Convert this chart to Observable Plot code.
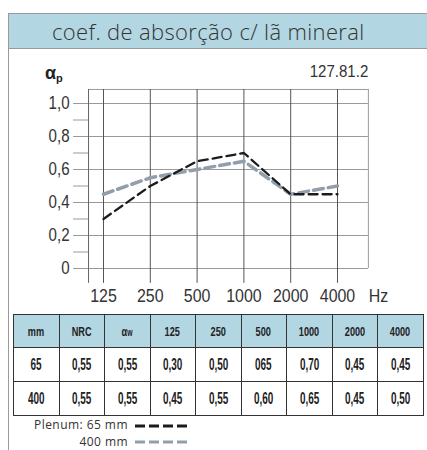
<!DOCTYPE html>
<html>
<head>
<meta charset="utf-8">
<script src="https://cdn.jsdelivr.net/npm/d3@7"></script>
<script src="https://cdn.jsdelivr.net/npm/@observablehq/plot@0.6"></script>
<style>
  html, body { margin: 0; padding: 0; background: #fff; }
  #page { position: relative; width: 427px; height: 450px; overflow: hidden; font-family: "Liberation Sans", Arial, sans-serif; }
  #box { position: absolute; left: 8px; top: 13px; width: 430px; height: 450px; border-left: 1.5px solid #9a9a9a; border-top: 1.5px solid #9a9a9a; }
  #band { position: absolute; left: 9px; top: 14px; width: 420px; height: 34px; background: #b3d7e2; border-bottom: 1.5px solid #9a9a9a; }
  #title { position: absolute; left: 52px; top: 16px; font-family: "Open Sans", "DejaVu Sans", sans-serif; font-weight: 300; font-size: 22px; letter-spacing: 0.35px; color: #333; white-space: nowrap; }
  #alpha { position: absolute; left: 45px; top: 63px; font-family: "Liberation Sans", Arial, sans-serif; font-weight: bold; font-size: 18px; color: #222; }
  #alpha sub { font-size: 11px; vertical-align: -3px; }
  #code { position: absolute; right: 59px; top: 63px; font-size: 16px; color: #333; display: inline-block; transform: scaleX(0.94); transform-origin: right center; }
  #chart { position: absolute; left: 0; top: 50px; }
  table { position: absolute; left: 13px; top: 314px; border-collapse: collapse; font-family: "Liberation Sans", Arial, sans-serif; color: #222; }
  td, th { border: 1.2px solid #333; width: 44.5px; text-align: center; padding: 0; }
  th { background: #b3d7e2; height: 32px; font-weight: bold; font-size: 13.5px; }
  td { height: 33px; font-weight: bold; font-size: 16px; }
  th span { display: inline-block; transform: scaleX(0.68); }
  td span { display: inline-block; transform: scaleX(0.62); }
  th sub { font-size: 10px; vertical-align: 0; }
  #legend { position: absolute; left: 0; top: 0; width: 427px; font-family: "Open Sans", "DejaVu Sans", sans-serif; font-size: 12px; line-height: 12px; color: #333; }
  .lt { position: absolute; right: 299px; white-space: nowrap; letter-spacing: 0.45px; }
</style>
</head>
<body>
<div id="page">
  <div id="box"></div>
  <div id="band"></div>
  <div id="title">coef. de absorção c/ lã mineral</div>
  <div id="alpha">α<sub>p</sub></div>
  <div id="code">127.81.2</div>
  <div id="chart"></div>
  <table id="tbl"></table>
  <div id="legend"></div>
</div>
<script>
const freqs = ["125", "250", "500", "1000", "2000", "4000"];
const plenum65 = [0.30, 0.50, 0.65, 0.70, 0.45, 0.45];
const plenum400 = [0.45, 0.55, 0.60, 0.65, 0.45, 0.50];
const yTicks = [0, 0.2, 0.4, 0.6, 0.8, 1.0];
const yMinor = [0.1, 0.3, 0.5, 0.7, 0.9];
const headers = ["mm", "NRC", "αw", "125", "250", "500", "1000", "2000", "4000"];
const row65 = ["65", "0,55", "0,55", "0,30", "0,50", "065", "0,70", "0,45", "0,45"];
const row400 = ["400", "0,55", "0,55", "0,45", "0,55", "0,60", "0,65", "0,45", "0,50"];
const legendLabels = ["Plenum: 65 mm", "400 mm"];

const c65 = "#1c1c1c", c400 = "#919eab";
const idx = freqs.map((f, i) => i);
const d65 = idx.map(i => ({i, v: plenum65[i]}));
const d400 = idx.map(i => ({i, v: plenum400[i]}));

const xL = -0.32, xR = 5.66, xT = -0.64, yTop = 1.085, yBot = -0.09;
const fmt = d => d === 0 ? "0" : d.toFixed(1).replace(".", ",");

const chart = Plot.plot({
  width: 427, height: 260,
  margin: 0,
  x: {type: "linear", domain: [0, 5], range: [103, 337], axis: null},
  y: {type: "linear", domain: [0, 1], range: [218, 53], axis: null},
  style: {fontFamily: "'Liberation Sans', Arial, sans-serif", color: "#333"},
  marks: [
    Plot.ruleY(yTicks, {y: d => d, x1: xT, x2: xR, stroke: "#9a9a9a", strokeWidth: 1, strokeOpacity: 1}),
    Plot.ruleY(yMinor, {y: d => d, x1: xT, x2: xL, stroke: "#9a9a9a", strokeWidth: 1, strokeOpacity: 1}),
    Plot.ruleY([yTop], {y: d => d, x1: xL, x2: xR, stroke: "#9a9a9a", strokeWidth: 1, strokeOpacity: 1}),
    Plot.ruleX([xR], {x: d => d, y1: 0, y2: yTop, stroke: "#9a9a9a", strokeWidth: 1, strokeOpacity: 1}),
    Plot.ruleX([xL], {x: d => d, y1: yBot, y2: yTop, stroke: "#666", strokeWidth: 1, strokeOpacity: 1}),
    Plot.ruleX(idx, {x: d => d, y1: yBot, y2: yTop, stroke: "#555", strokeWidth: 1, strokeOpacity: 1}),
    Plot.line(d400, {x: "i", y: "v", stroke: c400, strokeWidth: 3.5, strokeDasharray: "10,5"}),
    Plot.line(d65, {x: "i", y: "v", stroke: c65, strokeWidth: 2.3, strokeDasharray: "9,5"}),
    Plot.text(yTicks, {x: xT, y: d => d, text: fmt, textAnchor: "end", dx: -4, fontSize: 18, fill: "#333"}),
    Plot.text(idx, {x: d => d, y: -0.164, text: d => freqs[d], fontSize: 19, fill: "#333"}),
    Plot.text(["Hz"], {x: 5.876, y: -0.164, text: d => d, fontSize: 19, fill: "#333"})
  ]
});
// condense the tick texts horizontally around their anchor points (keep x/y/dy attributes as they are)
chart.querySelectorAll("text").forEach(t => {
  const tr = t.getAttribute("transform");
  if (tr) t.setAttribute("transform", `${tr} scale(0.84,1)`);
});
document.getElementById("chart").appendChild(chart);

// table
const tbl = document.getElementById("tbl");
const trh = document.createElement("tr");
headers.forEach(h => {
  const th = document.createElement("th");
  if (h === "αw") th.innerHTML = "<span>α<sub>w</sub></span>"; else th.innerHTML = `<span>${h}</span>`;
  trh.appendChild(th);
});
tbl.appendChild(trh);
[row65, row400].forEach(r => {
  const tr = document.createElement("tr");
  r.forEach(v => { const td = document.createElement("td"); td.innerHTML = `<span>${v}</span>`; tr.appendChild(td); });
  tbl.appendChild(tr);
});

// legend
const lg = document.getElementById("legend");
lg.innerHTML = `
<div class="lt" style="top:419px">${legendLabels[0]}</div>
<div class="lt" style="top:436px">${legendLabels[1]}</div>
<svg style="position:absolute;left:134px;top:420px" width="60" height="30">
  <line x1="1" x2="53" y1="6" y2="6" stroke="${c65}" stroke-width="3" stroke-dasharray="10,4"/>
  <line x1="1" x2="53" y1="22" y2="22" stroke="${c400}" stroke-width="3" stroke-dasharray="10,4"/>
</svg>`;
</script>
</body>
</html>
